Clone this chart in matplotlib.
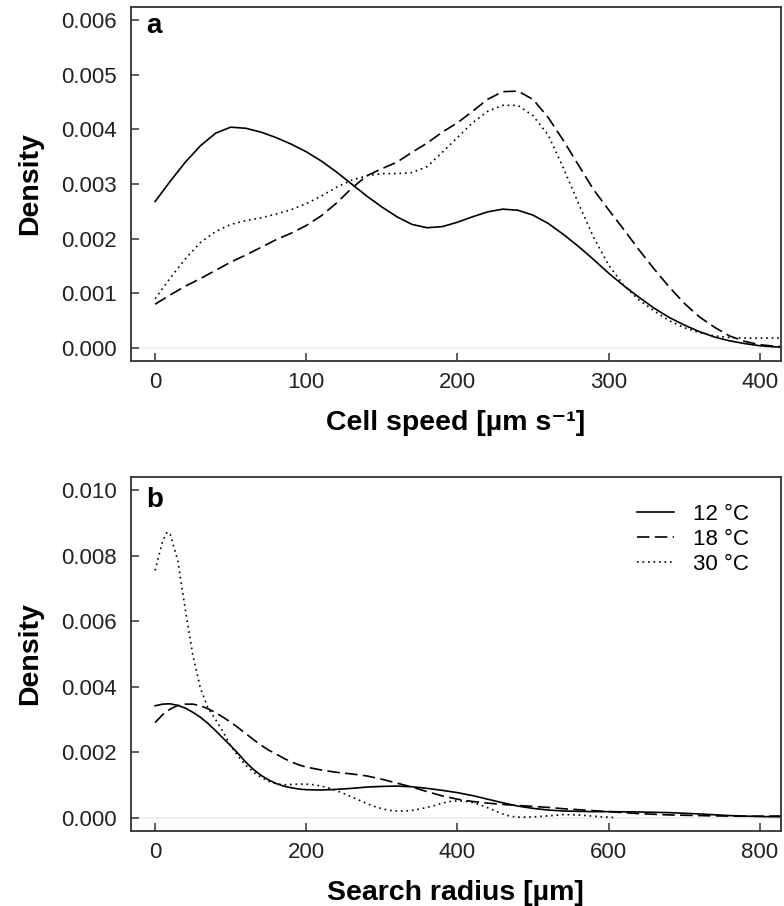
import matplotlib
matplotlib.use("Agg")
import matplotlib.pyplot as plt

# panel a: cell speed densities (x in um/s, y in 1e-3)
speedX = [0, 10, 20, 30, 40, 50, 60, 70, 80, 90, 100, 110, 120, 130, 140, 150,
          160, 170, 180, 190, 200, 210, 220, 230, 240, 250, 260, 270, 280, 290,
          300, 310, 320, 330, 340, 350, 360, 370, 380, 390, 400, 410, 420]
speed12 = [2.68, 3.05, 3.40, 3.70, 3.93, 4.04, 4.02, 3.95, 3.85, 3.73, 3.59,
           3.42, 3.22, 3.00, 2.78, 2.58, 2.40, 2.26, 2.20, 2.22, 2.30, 2.40,
           2.49, 2.54, 2.52, 2.43, 2.28, 2.08, 1.86, 1.62, 1.37, 1.14, 0.93,
           0.73, 0.56, 0.42, 0.30, 0.20, 0.13, 0.08, 0.04, 0.02, 0.01]
speed18 = [0.80, 0.97, 1.13, 1.27, 1.42, 1.57, 1.70, 1.84, 1.98, 2.10, 2.24,
           2.42, 2.65, 2.92, 3.15, 3.28, 3.40, 3.58, 3.75, 3.95, 4.12, 4.33,
           4.55, 4.69, 4.70, 4.55, 4.22, 3.80, 3.35, 2.90, 2.53, 2.17, 1.80,
           1.45, 1.12, 0.82, 0.57, 0.38, 0.22, 0.12, 0.06, 0.03, 0.02]
speed30 = [0.90, 1.28, 1.63, 1.93, 2.13, 2.26, 2.33, 2.38, 2.45, 2.53, 2.64,
           2.78, 2.94, 3.07, 3.15, 3.19, 3.19, 3.21, 3.32, 3.58, 3.85, 4.12,
           4.33, 4.44, 4.44, 4.25, 3.90, 3.30, 2.65, 2.03, 1.52, 1.15, 0.88,
           0.68, 0.50, 0.37, 0.28, 0.22, 0.19, 0.18, 0.18, 0.18, 0.18]

# panel b: search radius densities (x in um, y in 1e-3)
radiusX12 = [0, 10, 20, 30, 40, 50, 60, 70, 80, 90, 100, 110, 120, 130, 140,
             150, 160, 170, 180, 190, 200, 220, 240, 260, 280, 300, 320, 340,
             360, 380, 400, 420, 440, 460, 480, 500, 520, 540, 560, 580, 600,
             640, 680, 720, 760, 800, 840]
radius12 = [3.42, 3.47, 3.48, 3.43, 3.35, 3.22, 3.07, 2.88, 2.66, 2.43, 2.20,
            1.96, 1.70, 1.48, 1.30, 1.16, 1.05, 0.97, 0.92, 0.88, 0.86, 0.85,
            0.87, 0.90, 0.94, 0.96, 0.97, 0.95, 0.90, 0.84, 0.77, 0.68, 0.57,
            0.46, 0.36, 0.29, 0.24, 0.21, 0.20, 0.19, 0.19, 0.18, 0.16, 0.12,
            0.07, 0.04, 0.03]
radiusX18 = [0, 10, 20, 30, 40, 50, 60, 70, 80, 90, 100, 110, 120, 130, 140,
             150, 160, 170, 180, 190, 200, 220, 240, 260, 280, 300, 320, 340,
             360, 380, 400, 420, 440, 460, 480, 500, 520, 540, 560, 580, 600,
             620, 640, 660, 680, 700, 740, 780, 840]
radius18 = [2.91, 3.15, 3.32, 3.43, 3.47, 3.47, 3.42, 3.33, 3.21, 3.07, 2.92,
            2.75, 2.57, 2.39, 2.22, 2.07, 1.95, 1.82, 1.71, 1.62, 1.55, 1.46,
            1.39, 1.34, 1.28, 1.18, 1.06, 0.94, 0.80, 0.67, 0.57, 0.50, 0.45,
            0.41, 0.38, 0.35, 0.32, 0.28, 0.25, 0.22, 0.19, 0.16, 0.13, 0.11,
            0.09, 0.08, 0.06, 0.05, 0.06]
radiusX30 = [0, 10, 16, 20, 30, 40, 50, 60, 70, 80, 90, 100, 110, 120, 130,
             140, 150, 160, 170, 180, 190, 200, 210, 220, 230, 240, 250, 260,
             270, 280, 290, 300, 310, 320, 330, 340, 350, 360, 370, 380, 390,
             400, 410, 420, 430, 440, 450, 460, 470, 480, 500, 520, 540, 560,
             580, 600, 610]
radius30 = [7.55, 8.45, 8.72, 8.65, 7.85, 6.35, 4.95, 3.95, 3.35, 3.00, 2.62,
            2.20, 1.88, 1.60, 1.40, 1.24, 1.12, 1.04, 1.01, 1.02, 1.03, 1.03,
            1.01, 0.97, 0.91, 0.83, 0.74, 0.64, 0.54, 0.44, 0.35, 0.28, 0.23,
            0.21, 0.21, 0.23, 0.27, 0.32, 0.38, 0.45, 0.50, 0.52, 0.51, 0.47,
            0.40, 0.31, 0.21, 0.12, 0.05, 0.02, 0.03, 0.06, 0.10, 0.09, 0.05,
            0.02, 0.01]

labels = ["12 °C", "18 °C", "30 °C"]
styles = ["-", (0, (7.5, 3.2)), (0, (1, 2.3))]

FONT = ["Liberation Sans", "DejaVu Sans"]
AXCOL = "#333333"
LW = 1.2


def styleAxes(ax, xlim, ylim, xticks, yticks, xlabel, letter):
    """
    R base-graphics look for one panel
    """
    ax.set_xlim(xlim)
    ax.set_ylim(ylim)
    ax.axhline(0, color="#ececec", lw=1.2, zorder=0)
    ax.set_xticks(xticks)
    ax.set_yticks(yticks)
    ax.set_yticklabels(["%.3f" % v for v in yticks])
    ax.tick_params(direction="in", length=6, width=1.1, colors=AXCOL,
                   labelsize=16, labelcolor="#222222")
    ax.tick_params(axis="y", pad=10)
    ax.tick_params(axis="x", pad=8)
    for s in ax.spines.values():
        s.set_color(AXCOL)
        s.set_linewidth(1.3)
    ax.set_ylabel("Density", fontsize=20.5, fontweight="bold", family=FONT,
                  labelpad=13)
    ax.set_xlabel(xlabel, fontsize=20.5, fontweight="bold", family=FONT,
                  labelpad=12)
    ax.text(0.024, 0.927 if letter == "a" else 0.915, letter,
            transform=ax.transAxes, fontsize=20, fontweight="bold",
            family=FONT, va="baseline")


def main():
    plt.rcParams["font.family"] = FONT
    fig = plt.figure(figsize=(7.84, 9.06), dpi=100)
    axA = fig.add_axes([0.167, 0.6015, 0.829, 0.3908])
    axB = fig.add_axes([0.167, 0.0828, 0.829, 0.3907])

    axA.plot(speedX, [v / 1000 for v in speed12], color="black",
             ls=styles[0], lw=LW)
    axA.plot(speedX, [v / 1000 for v in speed18], color="black",
             ls=styles[1], lw=LW)
    axA.plot(speedX, [v / 1000 for v in speed30], color="black",
             ls=styles[2], lw=LW)
    styleAxes(axA, (-16, 414), (-0.00024, 0.00624), [0, 100, 200, 300, 400],
              [0.000, 0.001, 0.002, 0.003, 0.004, 0.005, 0.006],
              "Cell speed [µm s⁻¹]", "a")

    series = [(radiusX12, radius12), (radiusX18, radius18),
              (radiusX30, radius30)]
    for (xs, ys), ls, lab in zip(series, styles, labels):
        axB.plot(xs, [v / 1000 for v in ys], color="black", ls=ls, lw=LW,
                 label=lab)
    styleAxes(axB, (-32, 828), (-0.0004, 0.0104), [0, 200, 400, 600, 800],
              [0.000, 0.002, 0.004, 0.006, 0.008, 0.010],
              "Search radius [µm]", "b")
    axB.legend(loc="upper left", bbox_to_anchor=(0.778, 0.925), frameon=False,
               fontsize=16, handlelength=1.7, handletextpad=0.85,
               labelspacing=0.18, borderpad=0, borderaxespad=0)

    fig.savefig("out.png", dpi=100)


if __name__ == "__main__":
    main()
